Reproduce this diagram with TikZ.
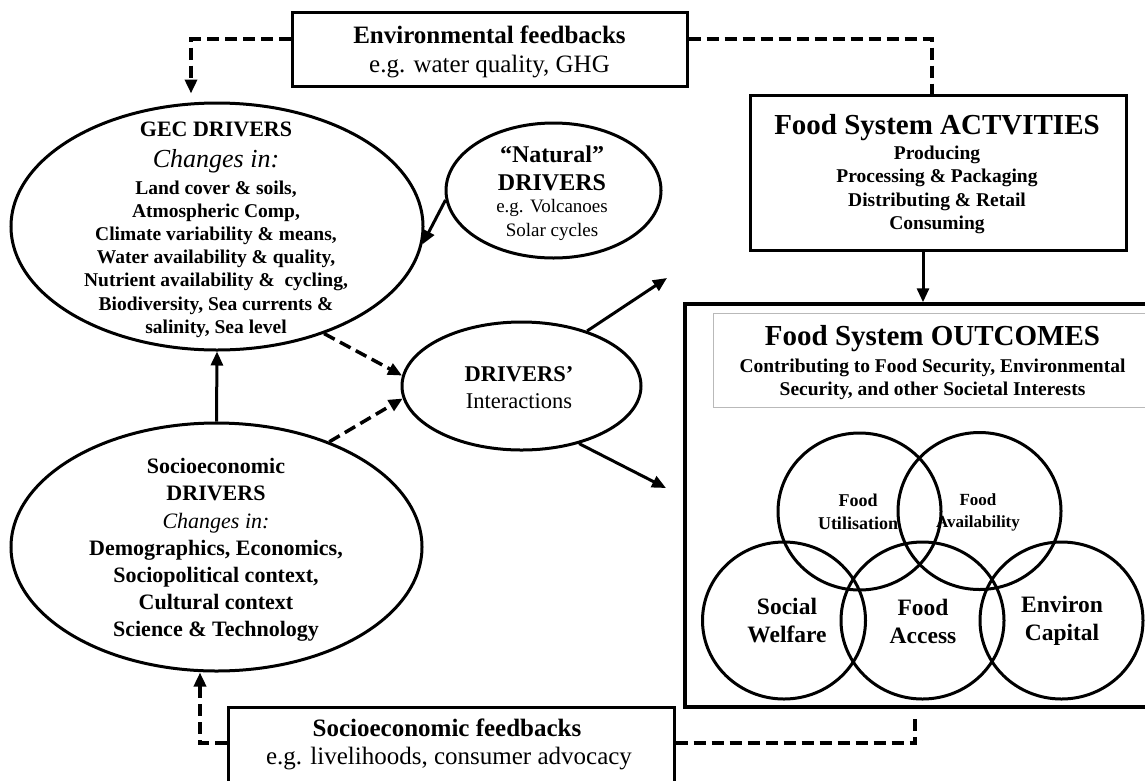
\documentclass[tikz,border=0pt]{standalone}
\usepackage{fontspec}
\setmainfont{Liberation Serif}
\usetikzlibrary{shapes.geometric,arrows.meta,calc}
\newcommand\fsz[2]{\fontsize{#1}{#2}\selectfont}
\begin{document}
\begin{tikzpicture}[x=1pt,y=-1pt,
  box/.style={draw,rectangle,line width=3pt,inner sep=0},
  oval/.style={draw,ellipse,line width=3pt,inner sep=0},
  ring/.style={draw,ellipse,line width=3pt,inner sep=0,minimum width=163pt,minimum height=157pt},
  txt/.style={align=center,inner sep=0},
  arr/.style={line width=3pt,-{Triangle[length=14pt,width=12pt]}},
  dline/.style={line width=3.5pt,dash pattern=on 12pt off 6pt},
  dasharr/.style={dline,-{Triangle[length=14pt,width=12pt]}},
]
\path[use as bounding box] (0,0) rectangle (1145,780);
\fill[white] (0,0) rectangle (1145,780);
\clip (0,0) rectangle (1145,780);

% ---- feedback boxes ----
\node[box,minimum width=395pt,minimum height=74pt] (envfb) at (489.5,49) {};
\node[txt,font=\fsz{25}{30}\bfseries] (envT) at (489.5,35) {Environmental feedbacks};
\node[txt,font=\fsz{25}{30}] (envS) at (489.5,67) {e.g. water quality, GHG};

\node[box,minimum width=446pt,minimum height=90pt] (sfb) at (451,752) {};
\node[txt,font=\fsz{25}{30}\bfseries] (sfbT) at (447,728) {Socioeconomic feedbacks};
\node[txt,font=\fsz{25}{30}] (sfbS) at (449,759) {e.g. livelihoods, consumer advocacy};

% ---- drivers ----
\node[oval,minimum width=412pt,minimum height=247pt] (gec) at (217,226.5) {};
\node[txt,font=\fsz{22}{26}\bfseries] (gecT) at (216,129) {GEC DRIVERS};
\node[txt,font=\fsz{26}{30}\itshape] (gecC) at (216,161) {Changes in:};
\node[txt,font=\fsz{19.5}{23.2}\bfseries] (gecB) at (216,259) {Land cover \& soils,\\Atmospheric Comp,\\Climate variability \& means,\\Water availability \& quality,\\Nutrient availability \&~~cycling,\\Biodiversity, Sea currents \&\\salinity, Sea level};

\node[oval,minimum width=215pt,minimum height=135pt] (nat) at (553.5,190.5) {};
\node[txt,font=\fsz{24}{28}\bfseries] (natT) at (552,168) {``Natural''\\DRIVERS};
\node[txt,font=\fsz{19}{24}] (natS) at (552,220) {e.g. Volcanoes\\Solar cycles};

\node[oval,minimum width=239pt,minimum height=128pt] (di) at (521.5,386) {};
\node[txt,font=\fsz{22.5}{27}] (diT) at (519,388) {\textbf{DRIVERS'}\\Interactions};

\node[oval,minimum width=411pt,minimum height=248pt] (soc) at (216.5,547) {};
\node[txt,font=\fsz{22}{27.2}] (socT) at (216,550) {\textbf{Socioeconomic}\\\textbf{DRIVERS}\\\textit{Changes in:}\\\textbf{Demographics, Economics,}\\\textbf{Sociopolitical context,}\\\textbf{Cultural context}\\\textbf{Science \& Technology}};

% ---- food system ----
\node[box,minimum width=376pt,minimum height=155pt] (act) at (938,172.5) {};
\node[txt,font=\fsz{29}{34}\bfseries] (actT) at (937,128) {Food System ACTVITIES};
\node[txt,font=\fsz{19.5}{23.3}\bfseries] (actB) at (937,190) {Producing\\Processing \& Packaging\\Distributing \& Retail\\Consuming};

\node[box,line width=3.5pt,minimum width=480pt,minimum height=403pt] (outc) at (925,505.5) {};
\node[draw=gray!55,line width=1pt,rectangle,inner sep=0,minimum width=447pt,minimum height=94pt] (outhead) at (936.5,360) {};
\node[txt,font=\fsz{29}{34}\bfseries] (outT) at (932.5,339) {Food System OUTCOMES};
\node[txt,font=\fsz{19.5}{23.3}\bfseries] (outS) at (932.5,379) {Contributing to Food Security, Environmental\\Security, and other Societal Interests};

\node[ring] (fu) at (859.5,511.5) {};
\node[ring] (fa) at (979.5,511) {};
\node[ring] (sw) at (784,620.5) {};
\node[ring] (fac) at (922.5,620.5) {};
\node[ring] (ec) at (1061.5,620.5) {};
\node[txt,font=\fsz{18}{23}\bfseries] (fuT) at (858,512) {Food\\Utilisation};
\node[txt,font=\fsz{17}{22}\bfseries] (faT) at (978,512) {Food\\Availability};
\node[txt,font=\fsz{23.5}{28}\bfseries] (swT) at (787,621) {Social\\Welfare};
\node[txt,font=\fsz{23.5}{28}\bfseries] (facT) at (923,621) {Food\\Access};
\node[txt,font=\fsz{23.5}{28}\bfseries] (ecT) at (1062,621) {Environ\\Capital};

% ---- connectors ----
\coordinate (actout) at ([xshift=-15pt]act.south);
\draw[arr] (actout) -- (actout |- outc.north);
\draw[arr] (soc.north) -- (gec.south);
\draw[arr] (nat.185) -- (gec.-5);
\draw[dasharr] (gec.-45) -- (di.175);
\draw[dasharr] (soc.43) -- (di.186);
\coordinate (upout) at (667,278);
\coordinate (downout) at (666,488);
\draw[arr] (di.40) -- (upout);
\draw[arr] (di.-45) -- (downout);

\draw[dasharr,shorten >=8pt] ([yshift=10pt]envfb.west) -| ([xshift=-26pt]gec.north);
\draw[dline] ([yshift=10pt]envfb.east) -| ([xshift=-6pt]act.north);
\draw[dasharr] ([yshift=9pt]sfb.west) -| ([xshift=-16.5pt]soc.south);
\draw[dline,shorten >=4pt] ([yshift=9pt]sfb.east) -| ([xshift=-10pt]outc.south);
\end{tikzpicture}
\end{document}
